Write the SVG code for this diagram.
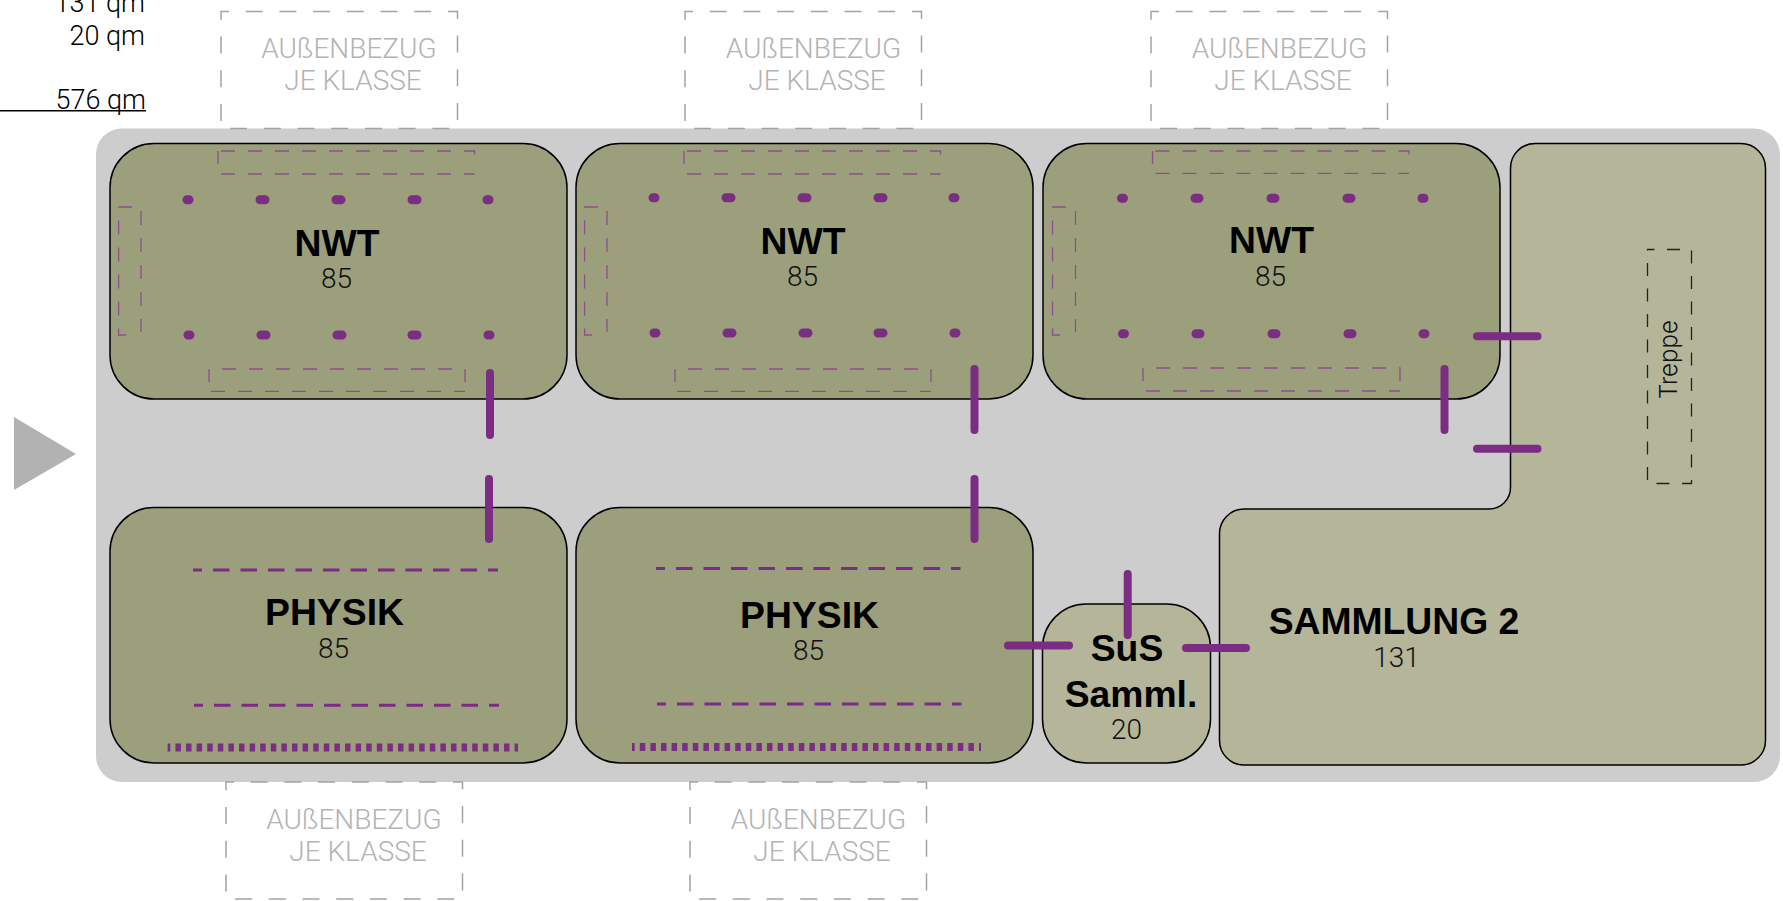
<svg xmlns="http://www.w3.org/2000/svg" width="1783" height="901" viewBox="0 0 1783 901">
<style>
text{font-family:"Liberation Sans",Arial,sans-serif}
.lt{font-family:Roboto,"Liberation Sans",sans-serif;font-weight:300}
.h{font-size:37.300px;font-weight:700;fill:#000;text-anchor:middle}
.n{font-size:28px;fill:#111;text-anchor:middle}
.q{font-size:27px;fill:#000;text-anchor:end}
.ext{font-size:28px;fill:#b3b3b3;text-anchor:middle}
.extbox{fill:none;stroke:#a3a3a3;stroke-width:1.5;stroke-dasharray:17 16.7;stroke-dashoffset:9}
.room{fill:#9c9f7c;stroke:#000;stroke-width:1.5}
.coll{fill:#b5b59a;stroke:#000;stroke-width:1.5}
.thin{fill:none;stroke:#8a4f8c;stroke-width:1.3;stroke-dasharray:14 13}
.dots{fill:none;stroke:#7b2d83;stroke-width:9;stroke-linecap:round}
.dash{fill:none;stroke:#7b2d83;stroke-width:3;stroke-dasharray:16.5 11;stroke-dashoffset:7.5}
.rail{fill:none;stroke:#7b2d83;stroke-width:8;stroke-dasharray:5.5 5.1;stroke-dashoffset:2.8}
.c{fill:none;stroke:#7b2d83;stroke-width:8;stroke-linecap:round}
</style>
<g id="totals">
<text class="q lt" x="145" y="12">131 qm</text>
<text class="q lt" x="145" y="45">20 qm</text>
<text class="q lt" x="146" y="109">576 qm</text>
<path d="M0 110.700H146" stroke="#000" stroke-width="1.500" fill="none"/>
</g>
<polygon id="entrance" points="14,417 76,454 14,490" fill="#b2b2b2"/>
<rect id="floor" x="96" y="128.500" width="1684" height="653.500" rx="26" fill="#cdcdcd"/>
<g id="ext1"><rect class="extbox" x="221" y="11.500" width="236.500" height="117"/><text class="ext lt" x="349" y="58">AUßENBEZUG</text><text class="ext lt" x="353" y="90">JE KLASSE</text></g>
<g id="ext2"><rect class="extbox" x="685" y="11.500" width="236.500" height="117"/><text class="ext lt" x="813.500" y="58">AUßENBEZUG</text><text class="ext lt" x="817" y="90">JE KLASSE</text></g>
<g id="ext3"><rect class="extbox" x="1151" y="11.500" width="236.500" height="117"/><text class="ext lt" x="1279.500" y="58">AUßENBEZUG</text><text class="ext lt" x="1283" y="90">JE KLASSE</text></g>
<g id="ext4"><rect class="extbox" x="226" y="782" width="236.500" height="117"/><text class="ext lt" x="354" y="829">AUßENBEZUG</text><text class="ext lt" x="358" y="861">JE KLASSE</text></g>
<g id="ext5"><rect class="extbox" x="690" y="782" width="236.500" height="117"/><text class="ext lt" x="818.500" y="829">AUßENBEZUG</text><text class="ext lt" x="822" y="861">JE KLASSE</text></g>
<g id="nwt1">
<rect class="room" x="110" y="143.500" width="457" height="255.500" rx="44"/>
<path class="thin" d="M218 151v13M221 151H474.500V164M221 174H474.500"/>
<path class="thin" d="M209 369v13M222 369H465V382M211 391.300H465"/>
<path class="thin" d="M132 207H118.600V335H132M141 211V332"/>
<path class="dots" d="M187 199.700h2M260 199.700h5M336 199.700h5M412 199.700h5M487 199.700h2M188 335h2M261 335h5M337 335h5M412 335h5M488 335h2"/>
<text class="h" x="337" y="255.700">NWT</text><text class="n lt" x="336.500" y="288">85</text>
</g>
<g id="nwt2">
<rect class="room" x="576" y="143.500" width="457" height="255.500" rx="44"/>
<path class="thin" d="M684 151v13M687 151H940.500V164M687 174H940.500"/>
<path class="thin" d="M675 369v13M688 369H931V382M677 391.300H931"/>
<path class="thin" d="M598 207H584.600V335H598M607 211V332"/>
<path class="dots" d="M653 197.700h2M726 197.700h5M802 197.700h5M878 197.700h5M953 197.700h2M654 333h2M727 333h5M803 333h5M878 333h5M954 333h2"/>
<text class="h" x="803" y="253.700">NWT</text><text class="n lt" x="802.500" y="286">85</text>
</g>
<g id="nwt3">
<rect class="room" x="1043" y="143.500" width="457" height="255.500" rx="44"/>
<path class="thin" d="M1152.500 151v13M1155.500 151H1409V164M1155.500 173.300H1409"/>
<path class="thin" d="M1143 368v13M1156 368H1400V381M1146 391H1400"/>
<path class="thin" d="M1066 207H1052.500V335H1066M1075.500 211V332"/>
<path class="dots" d="M1121.500 198.300h2M1195 198.300h4M1271 198.300h4M1347 198.300h4M1422 198.300h2M1122.500 333.700h2M1196 333.700h4M1272 333.700h4M1348 333.700h4M1423 333.700h2"/>
<text class="h" x="1271.500" y="253">NWT</text><text class="n lt" x="1270.500" y="286">85</text>
</g>
<g id="physik1">
<rect class="room" x="110" y="507.500" width="457" height="255.500" rx="44"/>
<path class="dash" d="M193 570H498M194 705.300H499"/>
<path class="rail" d="M167.600 747.500H518"/>
<text class="h" x="334.500" y="624.700">PHYSIK</text><text class="n lt" x="333.500" y="657.700">85</text>
</g>
<g id="physik2">
<rect class="room" x="576" y="507.500" width="457" height="255.500" rx="44"/>
<path class="dash" d="M656 568.500H960.500M657 704H961.500"/>
<path class="rail" d="M632 747H981"/>
<text class="h" x="809.500" y="627.500">PHYSIK</text><text class="n lt" x="808.500" y="660">85</text>
</g>
<g id="sus">
<rect class="coll" x="1042.500" y="604" width="168" height="159" rx="44"/>
<text class="h" x="1127" y="661.300">SuS</text><text class="h" x="1131" y="706.700">Samml.</text><text class="n lt" x="1126.500" y="739">20</text>
</g>
<g id="sammlung">
<path class="coll" d="M1535 143.500H1741A24.500 24.500 0 0 1 1765.500 168V740.500A24.500 24.500 0 0 1 1741 765H1244A24.500 24.500 0 0 1 1219.500 740.500V533.500A24.500 24.500 0 0 1 1244 509H1489A21.500 21.500 0 0 0 1510.500 487.500V168A24.500 24.500 0 0 1 1535 143.500Z"/>
<rect x="1647.500" y="249.500" width="44" height="234" fill="none" stroke="#222" stroke-width="1.300" stroke-dasharray="13 12.500" stroke-dashoffset="6"/>
<text transform="translate(1677 399) rotate(-90)" font-size="24" fill="#111" style="font-family:Inter,'Liberation Sans',sans-serif;font-weight:300">Treppe</text>
<text class="h" x="1394" y="633.500">SAMMLUNG 2</text><text class="n lt" x="1396.500" y="667">131</text>
</g>
<g id="connectors">
<path class="c" d="M490 373V435M489 479V539M974.500 369V430M974.500 479V539M1444.500 369V430M1477 336.300H1537.500M1477 448.700H1537.500M1127.700 574V635M1008 645.500H1069M1186 648H1246"/>
</g>
</svg>
